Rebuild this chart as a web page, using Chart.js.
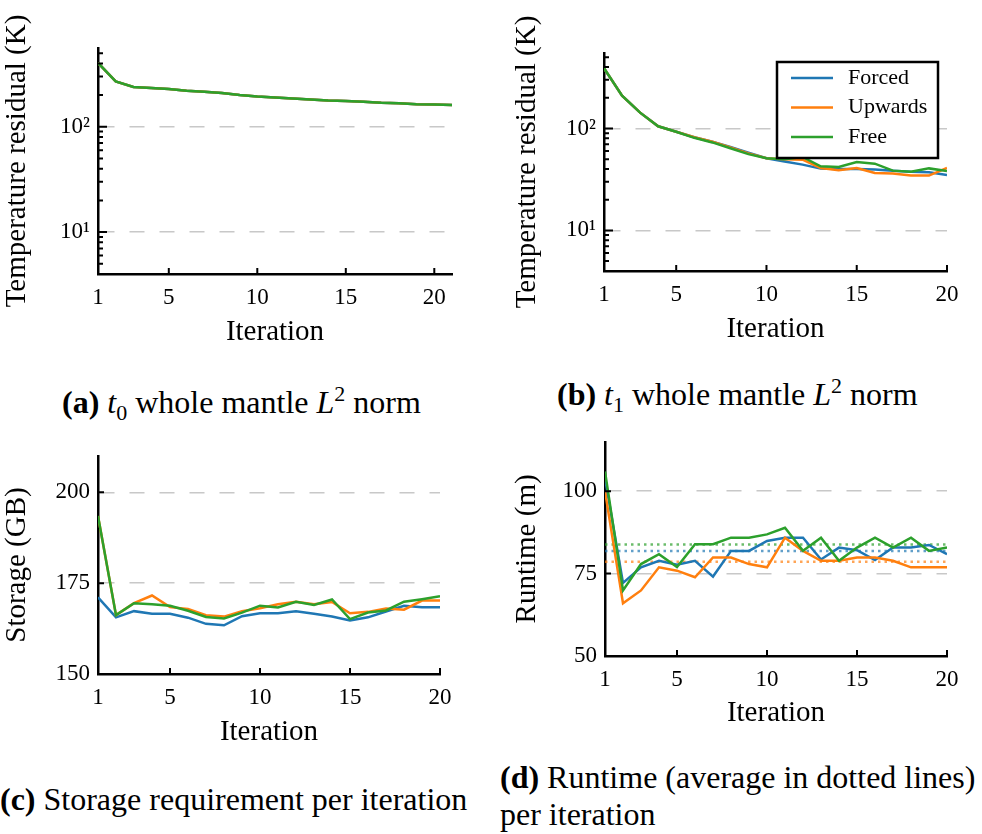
<!DOCTYPE html>
<html>
<head>
<meta charset="utf-8">
<script src="https://cdn.jsdelivr.net/npm/chart.js@4.4.1/dist/chart.umd.min.js"></script>
<style>
  body { margin: 0; background: #fff; width: 982px; height: 834px; position: relative; overflow: hidden;
         font-family: "Liberation Serif", serif; color: #000; }
  canvas { position: absolute; }
  .cap { position: absolute; font-size: 32px; line-height: 37px; white-space: nowrap; }
  .cap sub, .cap sup { font-size: 22px; line-height: 0; }
</style>
</head>
<body>
<canvas id="chartA" width="470" height="354" style="left:0;top:0"></canvas>
<canvas id="chartB" width="462" height="351" style="left:510px;top:0"></canvas>
<canvas id="chartC" width="470" height="324" style="left:0;top:430px"></canvas>
<canvas id="chartD" width="462" height="315" style="left:510px;top:420px"></canvas>

<div class="cap" style="left:62px;top:384px"><b>(a)</b> <i>t</i><sub>0</sub> whole mantle <i>L</i><sup>2</sup> norm</div>
<div class="cap" style="left:557px;top:376px"><b>(b)</b> <i>t</i><sub>1</sub> whole mantle <i>L</i><sup>2</sup> norm</div>
<div class="cap" style="left:0;top:781px"><b>(c)</b> Storage requirement per iteration</div>
<div class="cap" style="left:500px;top:759px"><b>(d)</b> Runtime (average in dotted lines)<br>per iteration</div>

<script>
// iterations
const iterations21 = [1, 2, 3, 4, 5, 6, 7, 8, 9, 10, 11, 12, 13, 14, 15, 16, 17, 18, 19, 20, 21];
const iterations20 = [1, 2, 3, 4, 5, 6, 7, 8, 9, 10, 11, 12, 13, 14, 15, 16, 17, 18, 19, 20];
const xTickValues = [1, 5, 10, 15, 20];

const seriesNames = ['Forced', 'Upwards', 'Free'];
const seriesColors = ['#1f77b4', '#ff7f0e', '#2ca02c'];
const averageColors = ['rgba(31,119,180,0.7)', 'rgba(255,127,14,0.7)', 'rgba(44,160,44,0.7)'];

// (a) t0 residual, K
const t0Forced  = [405, 270, 239, 234, 229, 220, 215, 209, 200, 194, 190, 186, 182, 178, 176, 173, 169, 167, 164, 163, 161];
const t0Upwards = [405, 270, 239, 234, 229, 220, 215, 209, 200, 194, 190, 186, 182, 178, 176, 173, 169, 167, 164, 163, 161];
const t0Free    = [405, 270, 239, 234, 229, 220, 215, 209, 200, 194, 190, 186, 182, 178, 176, 173, 169, 167, 164, 163, 161];

// (b) t1 residual, K
const t1Forced  = [390, 210, 143, 105, 93, 82, 74, 66, 58, 51, 47.5, 44.2, 40.4, 40.1, 40.1, 39.5, 38.6, 37.7, 37.2, 35.0];
const t1Upwards = [390, 210, 143, 105, 93, 82, 74, 65, 57, 51, 50, 49.4, 41.0, 38.9, 41.0, 36.6, 36.1, 34.5, 34.5, 41.0];
const t1Free    = [390, 210, 143, 105, 93, 81, 73, 64, 56, 51, 50, 52.5, 42.5, 41.9, 46.9, 45.2, 38.6, 37.7, 40.6, 38.3];

// (c) storage, GB
const storageForced  = [171.1, 165.6, 167.3, 166.6, 166.6, 165.5, 163.8, 163.4, 165.9, 166.7, 166.7, 167.3, 166.6, 165.8, 164.7, 165.6, 167.2, 168.8, 168.4, 168.4];
const storageUpwards = [193.5, 166.2, 169.5, 171.6, 168.4, 167.9, 166.2, 165.8, 167.3, 168.1, 169.2, 169.9, 169.2, 169.8, 166.7, 167.1, 168.0, 167.7, 170.2, 170.2];
const storageFree    = [193.5, 166.2, 169.5, 169.2, 168.8, 167.4, 165.7, 165.3, 166.9, 168.8, 168.3, 169.9, 169.0, 170.5, 165.1, 166.9, 167.5, 169.9, 170.6, 171.4];

// (d) runtime, minutes
const runtimeForced  = [104, 72.2, 76.9, 78.9, 77.7, 78.9, 74.1, 81.9, 81.9, 84.9, 85.9, 85.9, 79.3, 82.9, 82.1, 79.1, 82.9, 82.9, 83.7, 80.9];
const runtimeUpwards = [100, 66.0, 69.9, 76.9, 75.9, 73.9, 79.9, 79.9, 77.9, 76.9, 85.9, 81.9, 78.9, 78.9, 79.9, 79.9, 78.9, 76.9, 76.9, 76.9];
const runtimeFree    = [106, 69.9, 77.9, 80.9, 77.0, 83.9, 83.9, 85.9, 85.9, 86.9, 88.9, 81.9, 85.9, 78.9, 82.9, 85.9, 82.9, 85.9, 81.9, 82.9];

Chart.defaults.font.family = '"Liberation Serif", serif';
Chart.defaults.color = '#000';

const toPoints = (xs, ys) => ys.map((y, i) => ({ x: xs[i], y }));
const mean = arr => arr.reduce((a, b) => a + b, 0) / arr.length;

// Free is drawn last (on top), Forced first
function lineSets(xs, seriesList) {
  return seriesList.map((ys, i) => ({
    label: seriesNames[i],
    data: toPoints(xs, ys),
    borderColor: seriesColors[i],
    borderWidth: 2.5,
    pointRadius: 0,
    tension: 0,
    order: seriesList.length - i
  }));
}

// short tick marks pointing into the plot
const innerTicks = {
  id: 'innerTicks',
  afterDatasetsDraw(chart, args, opts) {
    const { ctx, chartArea, scales: { x, y } } = chart;
    ctx.save();
    ctx.strokeStyle = '#000';
    ctx.lineWidth = 2;
    ctx.beginPath();
    for (const v of opts.xMarks || []) {
      const px = x.getPixelForValue(v);
      ctx.moveTo(px, chartArea.bottom);
      ctx.lineTo(px, chartArea.bottom - 6);
    }
    for (const [v, len] of opts.yMarks || []) {
      const py = y.getPixelForValue(v);
      ctx.moveTo(chartArea.left, py);
      ctx.lineTo(chartArea.left + len, py);
    }
    ctx.stroke();
    ctx.restore();
  }
};

// boxed legend in the upper right of the plot
const boxLegend = {
  id: 'boxLegend',
  afterDatasetsDraw(chart, args, opts) {
    if (!opts.show) return;
    const { ctx, chartArea } = chart;
    const w = 161, h = 96;
    const left = chartArea.right - 9 - w, top = chartArea.top + 9;
    ctx.save();
    ctx.fillStyle = '#fff';
    ctx.fillRect(left, top, w, h);
    ctx.strokeStyle = '#000';
    ctx.lineWidth = 2.5;
    ctx.strokeRect(left, top, w, h);
    ctx.font = '22px "Liberation Serif", serif';
    ctx.textBaseline = 'middle';
    chart.data.datasets.forEach((ds, i) => {
      const cy = top + 16 + i * 29.5;
      ctx.strokeStyle = ds.borderColor;
      ctx.lineWidth = 2.5;
      ctx.beginPath();
      ctx.moveTo(left + 14, cy);
      ctx.lineTo(left + 56, cy);
      ctx.stroke();
      ctx.fillStyle = '#000';
      ctx.fillText(ds.label, left + 71, cy);
    });
    ctx.restore();
  }
};

function logMarks(min, max) {
  const marks = [];
  for (const d of [1, 10, 100]) {
    for (let m = 1; m <= 9; m++) {
      const v = m * d;
      if (v > min && v < max) marks.push([v, m === 1 ? 9 : 5]);
    }
  }
  return marks;
}

function makePanel(id, p) {
  const yScale = p.log
    ? {
        type: 'logarithmic', min: p.yMin, max: p.yMax,
        afterBuildTicks: s => { s.ticks = p.yTicks.map(v => ({ value: v })); },
        ticks: { font: { size: 23 }, padding: 8, callback: v => p.yLabels[v] || '' }
      }
    : {
        type: 'linear', min: p.yMin, max: p.yMax,
        afterBuildTicks: s => { s.ticks = p.yTicks.map(v => ({ value: v })); },
        ticks: { font: { size: 23 }, padding: 8, callback: v => String(v) }
      };
  Object.assign(yScale, {
    afterFit: s => { s.width = p.yWidth; },
    grid: {
      drawTicks: false,
      lineWidth: 1.5,
      color: c => (c.tick && c.tick.value > p.yMin ? '#c8c8c8' : 'rgba(0,0,0,0)')
    },
    border: { display: true, color: '#000', width: 2.5, dash: [15, 15] },
    title: { display: true, text: p.yTitle, font: { size: 29 }, padding: { top: 0, bottom: 4 } }
  });

  return new Chart(document.getElementById(id), {
    type: 'line',
    data: { datasets: p.datasets },
    options: {
      responsive: false,
      animation: false,
      layout: { padding: { top: p.padTop, right: p.padRight, left: 0, bottom: 0 } },
      scales: {
        x: {
          type: 'linear', min: 1, max: p.xMax,
          afterBuildTicks: s => { s.ticks = xTickValues.map(v => ({ value: v })); },
          afterFit: s => { s.height = p.xHeight; },
          ticks: { font: { size: 23 }, padding: 10, maxRotation: 0 },
          grid: { display: false, drawTicks: false },
          border: { display: true, color: '#000', width: 2.5 },
          title: { display: true, text: 'Iteration', font: { size: 29 }, padding: { top: 0, bottom: 4 } }
        },
        y: yScale
      },
      plugins: {
        legend: { display: false },
        tooltip: { enabled: false },
        innerTicks: { xMarks: [5, 10, 15, 20], yMarks: p.yMarks },
        boxLegend: { show: !!p.legend }
      }
    },
    plugins: [innerTicks, boxLegend]
  });
}

makePanel('chartA', {
  log: true, yMin: 4, yMax: 560, yTicks: [10, 100], yLabels: { 10: '10¹', 100: '10²' },
  yMarks: logMarks(4, 560), yTitle: 'Temperature residual (K)',
  xMax: 21, yWidth: 98, xHeight: 80, padTop: 48, padRight: 18,
  datasets: lineSets(iterations21, [t0Forced, t0Upwards, t0Free])
});

makePanel('chartB', {
  log: true, yMin: 4, yMax: 550, yTicks: [10, 100], yLabels: { 10: '10¹', 100: '10²' },
  yMarks: logMarks(4, 550), yTitle: 'Temperature residual (K)',
  xMax: 20, yWidth: 94, xHeight: 80, padTop: 53, padRight: 25,
  legend: true,
  datasets: lineSets(iterations20, [t1Forced, t1Upwards, t1Free])
});

makePanel('chartC', {
  log: false, yMin: 150, yMax: 210, yTicks: [150, 175, 200],
  yMarks: [[175, 6], [200, 6]], yTitle: 'Storage (GB)',
  xMax: 20, yWidth: 98, xHeight: 80, padTop: 26, padRight: 30,
  datasets: lineSets(iterations20, [storageForced, storageUpwards, storageFree])
});

// runtime: averages as dotted horizontal lines under the solid series
const runtimeSeries = [runtimeForced, runtimeUpwards, runtimeFree];
const averageSets = runtimeSeries.map((ys, i) => ({
  label: seriesNames[i] + ' average',
  data: toPoints([1, 20], [mean(ys), mean(ys)]),
  borderColor: averageColors[i],
  borderWidth: 2.5,
  borderDash: [2.5, 4],
  pointRadius: 0,
  order: 10
}));
const runtimeChart = makePanel('chartD', {
  log: false, yMin: 50, yMax: 115, yTicks: [50, 75, 100],
  yMarks: [[75, 6], [100, 6]], yTitle: 'Runtime (m)',
  xMax: 20, yWidth: 95, xHeight: 79, padTop: 18, padRight: 25,
  datasets: averageSets.concat(lineSets(iterations20, runtimeSeries))
});
</script>
</body>
</html>
